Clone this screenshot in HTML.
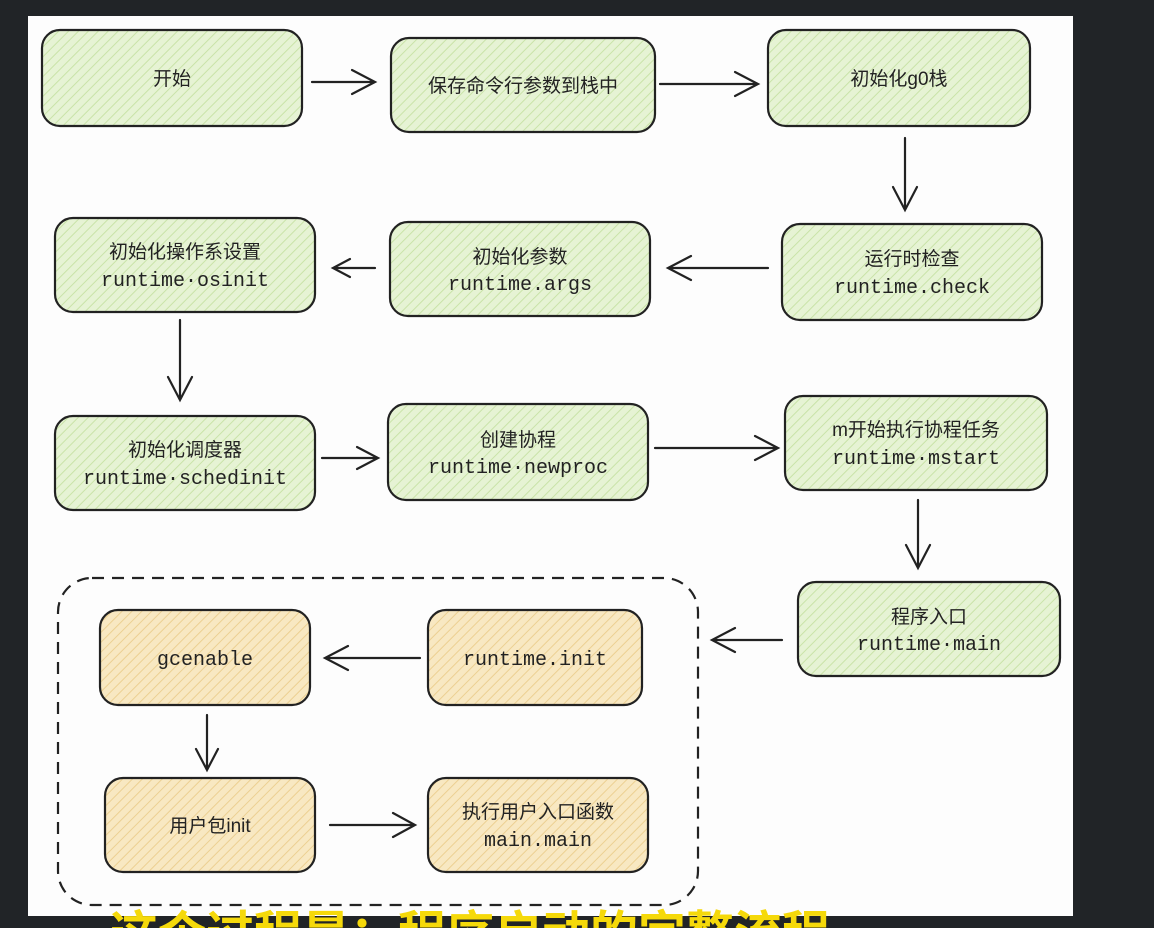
<!DOCTYPE html>
<html><head><meta charset="utf-8"><style>
html,body{margin:0;padding:0;background:#212427;width:1154px;height:928px;overflow:hidden}
svg{display:block}
.cn{font-family:"Liberation Sans","Noto Sans CJK SC",sans-serif;font-size:19px;fill:#222}
.mono{font-family:"Liberation Mono","Noto Sans CJK SC",monospace;font-size:20px;fill:#222}
</style></head><body>
<svg width="1154" height="928" viewBox="0 0 1154 928" xmlns="http://www.w3.org/2000/svg">
<defs>
<pattern id="g" width="7" height="7" patternUnits="userSpaceOnUse" patternTransform="rotate(45)">
<rect width="7" height="7" fill="#e6f3d4"/><line x1="0" y1="0" x2="0" y2="7" stroke="#c9e3a8" stroke-width="2"/></pattern>
<pattern id="y" width="7" height="7" patternUnits="userSpaceOnUse" patternTransform="rotate(45)">
<rect width="7" height="7" fill="#f8e8c2"/><line x1="0" y1="0" x2="0" y2="7" stroke="#ecd092" stroke-width="2"/></pattern>
</defs>
<rect x="28" y="16" width="1045" height="900" fill="#fdfdfd"/>
<g stroke="#222" stroke-width="2.2">
<rect x="42" y="30" width="260" height="96" rx="18" fill="url(#g)"/>
<rect x="391" y="38" width="264" height="94" rx="18" fill="url(#g)"/>
<rect x="768" y="30" width="262" height="96" rx="18" fill="url(#g)"/>
<rect x="782" y="224" width="260" height="96" rx="18" fill="url(#g)"/>
<rect x="390" y="222" width="260" height="94" rx="18" fill="url(#g)"/>
<rect x="55" y="218" width="260" height="94" rx="18" fill="url(#g)"/>
<rect x="55" y="416" width="260" height="94" rx="18" fill="url(#g)"/>
<rect x="388" y="404" width="260" height="96" rx="18" fill="url(#g)"/>
<rect x="785" y="396" width="262" height="94" rx="18" fill="url(#g)"/>
<rect x="798" y="582" width="262" height="94" rx="18" fill="url(#g)"/>
<rect x="58" y="578" width="640" height="327" rx="34" fill="none" stroke-dasharray="12 8"/>
<rect x="100" y="610" width="210" height="95" rx="18" fill="url(#y)"/>
<rect x="428" y="610" width="214" height="95" rx="18" fill="url(#y)"/>
<rect x="105" y="778" width="210" height="94" rx="18" fill="url(#y)"/>
<rect x="428" y="778" width="220" height="94" rx="18" fill="url(#y)"/>
</g>
<g stroke="#222" stroke-width="2.2" fill="none" stroke-linecap="round">
<path d="M312 82H375M352 70L375 82L352 94"/>
<path d="M660 84H758M735 72L758 84L735 96"/>
<path d="M905 138V210M893 187L905 210L917 187"/>
<path d="M768 268H668M691 256L668 268L691 280"/>
<path d="M375 268H333M350 259L333 268L350 277"/>
<path d="M180 320V400M168 377L180 400L192 377"/>
<path d="M322 458H378M357 447L378 458L357 469"/>
<path d="M655 448H778M755 436L778 448L755 460"/>
<path d="M918 500V568M906 545L918 568L930 545"/>
<path d="M782 640H712M735 628L712 640L735 652"/>
<path d="M420 658H325M348 646L325 658L348 670"/>
<path d="M207 715V770M196 749L207 770L218 749"/>
<path d="M330 825H415M393 813L415 825L393 837"/>
</g>
<g text-anchor="middle">
<text class="cn" x="172" y="85">开始</text>
<text class="cn" x="523" y="92">保存命令行参数到栈中</text>
<text class="cn" x="899" y="85">初始化g0栈</text>
<text class="cn" x="912" y="265">运行时检查</text><text class="mono" x="912" y="293">runtime.check</text>
<text class="cn" x="520" y="263">初始化参数</text><text class="mono" x="520" y="290">runtime.args</text>
<text class="cn" x="185" y="258">初始化操作系设置</text><text class="mono" x="185" y="286">runtime·osinit</text>
<text class="cn" x="185" y="456">初始化调度器</text><text class="mono" x="185" y="484">runtime·schedinit</text>
<text class="cn" x="518" y="446">创建协程</text><text class="mono" x="518" y="473">runtime·newproc</text>
<text class="cn" x="916" y="436">m开始执行协程任务</text><text class="mono" x="916" y="464">runtime·mstart</text>
<text class="cn" x="929" y="623">程序入口</text><text class="mono" x="929" y="650">runtime·main</text>
<text class="mono" x="205" y="665">gcenable</text>
<text class="mono" x="535" y="665">runtime.init</text>
<text class="cn" x="210" y="832">用户包init</text>
<text class="cn" x="538" y="818">执行用户入口函数</text><text class="mono" x="538" y="846">main.main</text>
</g>
<text x="110" y="950" style="font-family:'Liberation Sans','Noto Sans CJK SC',sans-serif;font-size:48px;font-weight:bold;fill:#f5d90a">这个过程是：程序启动的完整流程</text>
</svg>
</body></html>
